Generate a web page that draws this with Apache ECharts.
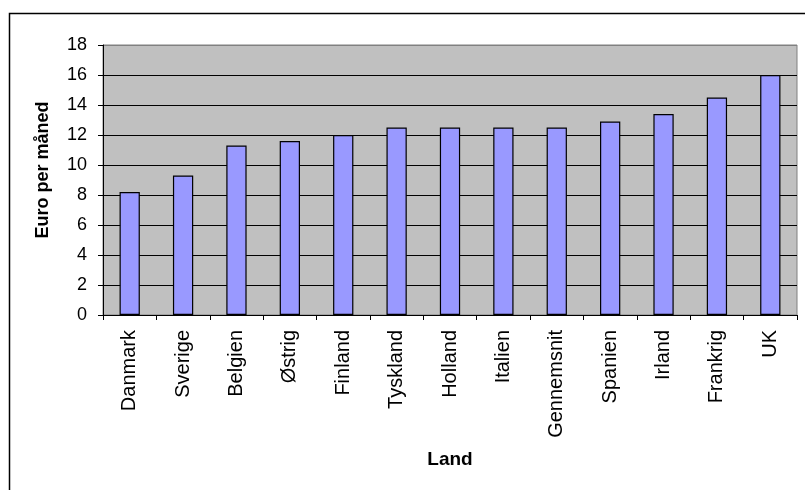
<!DOCTYPE html>
<html><head><meta charset="utf-8">
<script src="https://cdn.jsdelivr.net/npm/echarts@6/dist/echarts.min.js"></script>
<style>html,body{margin:0;padding:0;background:#fff;}#c{width:805px;height:490px;}</style>
</head><body><div id="c"></div>
<script>
const categories = ['Danmark','Sverige','Belgien','Østrig','Finland','Tyskland','Holland','Italien','Gennemsnit','Spanien','Irland','Frankrig','UK'];
const values = [8.2, 9.3, 11.3, 11.6, 12.0, 12.5, 12.5, 12.5, 12.5, 12.9, 13.4, 14.5, 16.0];
const yTitle = 'Euro per måned';
const xTitle = 'Land';

const chart = echarts.init(document.getElementById('c'), null, {renderer:'canvas'});
const font = 'Liberation Sans, Arial, sans-serif';
chart.setOption({
  animation: false,
  backgroundColor: '#fff',
  graphic: [{
    type: 'rect', left: 7, top: 11, z: -1,
    shape: {x: 0, y: 0, width: 830, height: 500},
    style: {fill: 'none', stroke: '#000', lineWidth: 1.5}
  }],
  grid: {left: 103, right: 8, top: 45, bottom: 175, show: true,
         backgroundColor: '#C0C0C0', borderColor: '#808080', borderWidth: 1},
  xAxis: {
    type: 'category', data: categories,
    name: xTitle, nameLocation: 'middle', nameGap: 135,
    nameTextStyle: {fontFamily: font, fontSize: 19, fontWeight: 'bold', color: '#000'},
    axisLine: {lineStyle: {color: '#000', width: 1}},
    axisTick: {show: true, length: 5, lineStyle: {color: '#000'}},
    axisLabel: {rotate: 90, fontFamily: font, fontSize: 20, color: '#000', margin: 15, interval: 0}
  },
  yAxis: {
    type: 'value', min: 0, max: 18, interval: 2,
    name: yTitle, nameLocation: 'middle', nameGap: 51, nameRotate: 90,
    nameTextStyle: {fontFamily: font, fontSize: 18, fontWeight: 'bold', color: '#000', padding: [0, 0, 0, 20]},
    axisLine: {show: true, lineStyle: {color: '#000', width: 1}},
    axisTick: {show: true, length: 5, lineStyle: {color: '#000'}},
    axisLabel: {fontFamily: font, fontSize: 18, color: '#000', margin: 16},
    splitLine: {show: true, lineStyle: {color: ['#000','#000','#000','#000','#000','#000','#000','#000','#000','#808080'], width: 1}}
  },
  series: [{
    type: 'bar', data: values, barCategoryGap: '62%',
    itemStyle: {color: '#9999FF', borderColor: '#000', borderWidth: 1.2}
  }]
});
</script></body></html>
